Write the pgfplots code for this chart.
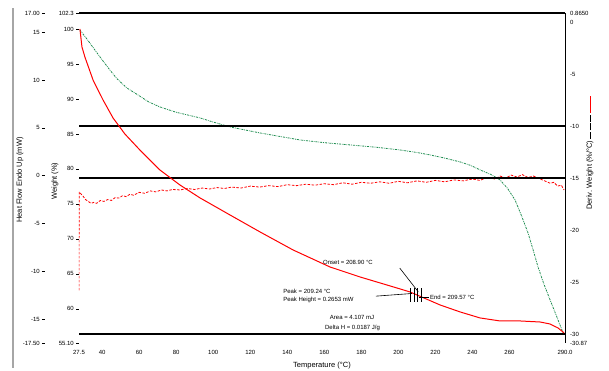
\documentclass[border=0pt]{standalone}
\usepackage{pgfplots}
\pgfplotsset{compat=1.18}
\usepackage{fontspec}
\setmainfont{Liberation Sans}
\definecolor{tgagreen}{RGB}{30,140,80}
\begin{document}
\fontsize{6}{7}\selectfont
\begin{tikzpicture}
\pgfplotsset{
  base/.style={
    scale only axis, width=486pt, height=330pt,
    at={(0pt,0pt)}, anchor=south west,
    xmin=27.5, xmax=290,
    tick label style={font=\fontsize{6}{7}\selectfont},
    label style={font=\fontsize{7.5}{8.5}\selectfont},
    /pgf/number format/assume math mode=true,
    tick align=outside, major tick length=3pt,
  }
}
% ---------- Weight axis (main) ----------
\begin{axis}[base,
  ymin=55.1, ymax=102.3,
  axis x line*=bottom, axis y line*=left,
  x axis line style={draw=none}, y axis line style={draw=none},
  xtick={27.5,40,60,80,100,120,140,160,180,200,220,240,260,290},
  xticklabels={27.5,40,60,80,100,120,140,160,180,200,220,240,260,290.0},
  x tick style={draw=none},
  xticklabel style={yshift=-2pt},
  ytick={55.1,60,65,70,75,80,85,90,95,100,102.3},
  yticklabels={55.10,60,65,70,75,80,85,90,95,100,102.3},
  y tick style={black, thin},
  xlabel={Temperature (°C)},
  xlabel style={at={(axis description cs:0.5,-0.067)}, anchor=center},
  ylabel={Weight (\%)},
  ylabel style={at={(axis description cs:-0.0494,0.49)}, anchor=center},
]
\addplot[tgagreen, line width=0.8pt, dash pattern=on 2pt off 1pt on 0.7pt off 1pt] coordinates {
(28.0,99.86)(32,98.5)(36.1,97.0)(40,95.6)(44.2,94.14)(48,92.9)(53.4,91.57)(60.4,90.4)(65,89.6)
(71.2,88.86)(80,88.1)(92.9,87.29)(100,86.7)(109.1,86.0)(125.3,85.14)(146.9,84.14)(160,83.75)
(173.9,83.43)(188,83.1)(200.9,82.71)(210,82.35)(217.1,82.0)(225,81.55)(233.3,81.0)(239,80.5)
(244.1,79.86)(250,79.2)(254.9,78.43)(259,77.2)(263.0,75.57)(266.5,73.3)(270.0,70.86)(272.8,68.4)
(275.4,66.0)(278.5,63.6)(281.9,61.29)(285.5,58.9)(288.9,56.57)
};
\end{axis}
% ---------- Heat flow axis (outer left) ----------
\begin{axis}[base,
  ymin=-17.5, ymax=17.0,
  axis x line=none, axis y line*=left,
  y axis line style={draw=none},
  ytick={-17.5,-15,-10,-5,0,5,10,15,17},
  yticklabels={-17.50,-15,-10,-5,0,5,10,15,17.00},
  y tick style={black, thin, xshift=-34pt},
  yticklabel style={xshift=-34pt},
  ylabel={Heat Flow Endo Up (mW)},
  ylabel style={at={(axis description cs:-0.1214,0.494)}, anchor=center},
]
\addplot[red, line width=0.8pt, dash pattern=on 2.5pt off 1.5pt] coordinates {
(27.5,-12.0)(27.6,-1.7)(28.5,-1.9)(29.5,-2.1)(31,-2.5)(32.5,-2.7)(34,-2.9)(35.5,-2.8)(37,-2.9)
(39,-2.6)(41,-2.7)(43,-2.5)(45,-2.6)(47,-2.3)(49,-2.35)(51,-2.1)(53,-2.2)(55,-1.95)(57,-2.05)
(60,-1.75)(63,-1.85)(66,-1.6)(69,-1.7)(72,-1.5)(75,-1.6)(78,-1.45)(82,-1.5)(86,-1.35)(90,-1.45)
(94,-1.3)(98,-1.4)(102,-1.25)(106,-1.35)(110,-1.2)(115,-1.3)(120,-1.1)(125,-1.2)(130,-1.05)
(135,-1.15)(140,-0.95)(145,-1.05)(150,-0.9)(155,-1.0)(160,-0.85)(165,-0.95)(170,-0.75)(175,-0.9)
(180,-0.7)(185,-0.8)(190,-0.65)(195,-0.8)(200,-0.6)(205,-0.75)(210,-0.55)(215,-0.7)(220,-0.5)
(225,-0.65)(230,-0.45)(235,-0.55)(240,-0.35)(244,-0.5)(248,-0.2)(252,-0.35)(255,-0.05)(258,-0.25)
(261,0.05)(264,-0.15)(267,0.1)(270,-0.2)(273,-0.05)(276,-0.3)(279,-0.55)(282,-0.8)(284,-0.7)
(286,-1.1)(288,-1.0)(289.5,-1.5)
};
\end{axis}
% ---------- Right axis ----------
\begin{axis}[base,
  ymin=-30.87, ymax=0.87,
  axis y line*=right, axis x line*=top,
  xtick=\empty,
  x axis line style={black, line width=1.1pt, -},
  y axis line style={black, line width=0.9pt, -},
  ytick={-30.87,-30,-25,-20,-15,-10,-5,0,0.87},
  yticklabels={-30.87,-30,-25,-20,-15,-10,-5,0,0.8650},
  y tick style={draw=none},
  extra y ticks={-10,-15,-30},
  extra y tick labels={},
  extra y tick style={grid=major, major grid style={black, line width=1.1pt}, tick style={draw=none}},
  ylabel={Deriv. Weight (\%/°C)\ \rule[0.35ex]{7pt}{0.8pt}\,\rule[0.35ex]{7pt}{0.8pt}\,\rule[0.35ex]{7pt}{0.8pt}\ \textcolor{red}{\rule[0.3ex]{17pt}{0.9pt}}},
  ylabel style={at={(axis description cs:1.0514,0.576)}, anchor=center},
]
\addplot[red, line width=1pt] coordinates {
(28.0,-0.67)(29.1,-2.4)(30.7,-3.37)(35.1,-5.58)(40.5,-7.5)(45.9,-9.23)(52.3,-10.77)(60.4,-12.31)
(71.2,-14.23)(82.0,-15.67)(92.9,-16.92)(109.1,-18.56)(125.3,-20.19)(143.1,-21.92)(163.1,-23.56)
(179.3,-24.52)(195.5,-25.38)(206.3,-25.96)(222.5,-27.21)(233.3,-27.88)(244.1,-28.46)(254.9,-28.75)
(265.7,-28.75)(276.5,-28.85)(281.9,-29.04)(286.2,-29.42)(289.5,-29.9)
};
\node[anchor=west, inner sep=0pt, font=\fontsize{6}{7}\selectfont] at (rel axis cs:0.502,0.245) {Onset = 208.90 °C};
\node[anchor=west, inner sep=0pt, font=\fontsize{6}{7}\selectfont] at (rel axis cs:0.420,0.155) {Peak = 209.24 °C};
\node[anchor=west, inner sep=0pt, font=\fontsize{6}{7}\selectfont] at (rel axis cs:0.420,0.130) {Peak Height = 0.2653 mW};
\node[anchor=west, inner sep=0pt, font=\fontsize{6}{7}\selectfont] at (rel axis cs:0.722,0.139) {End = 209.57 °C};
\node[anchor=west, inner sep=0pt, font=\fontsize{6}{7}\selectfont] at (rel axis cs:0.516,0.076) {Area = 4.107 mJ};
\node[anchor=west, inner sep=0pt, font=\fontsize{6}{7}\selectfont] at (rel axis cs:0.506,0.045) {Delta H = 0.0187 J/g};
\draw[black, line width=0.6pt] (rel axis cs:0.660,0.227) -- (rel axis cs:0.698,0.155);
\draw[black, line width=0.6pt] (rel axis cs:0.611,0.142) -- (rel axis cs:0.685,0.150);
\draw[black, line width=0.6pt] (rel axis cs:0.700,0.139) -- (rel axis cs:0.720,0.139);
\draw[black, line width=0.6pt] (rel axis cs:0.681,0.125) -- (rel axis cs:0.681,0.168);
\draw[black, line width=0.6pt] (rel axis cs:0.689,0.125) -- (rel axis cs:0.689,0.168);
\draw[black, line width=0.6pt] (rel axis cs:0.697,0.125) -- (rel axis cs:0.697,0.168);
\draw[black, line width=0.6pt] (rel axis cs:0.705,0.125) -- (rel axis cs:0.705,0.168);
\end{axis}
\draw[gray!70, line width=1.3pt] (-66pt,-25pt) -- (-66pt,335pt);
\pgfresetboundingbox
\useasboundingbox (-79pt,-28pt) rectangle (530pt,343pt);
\end{tikzpicture}
\end{document}
